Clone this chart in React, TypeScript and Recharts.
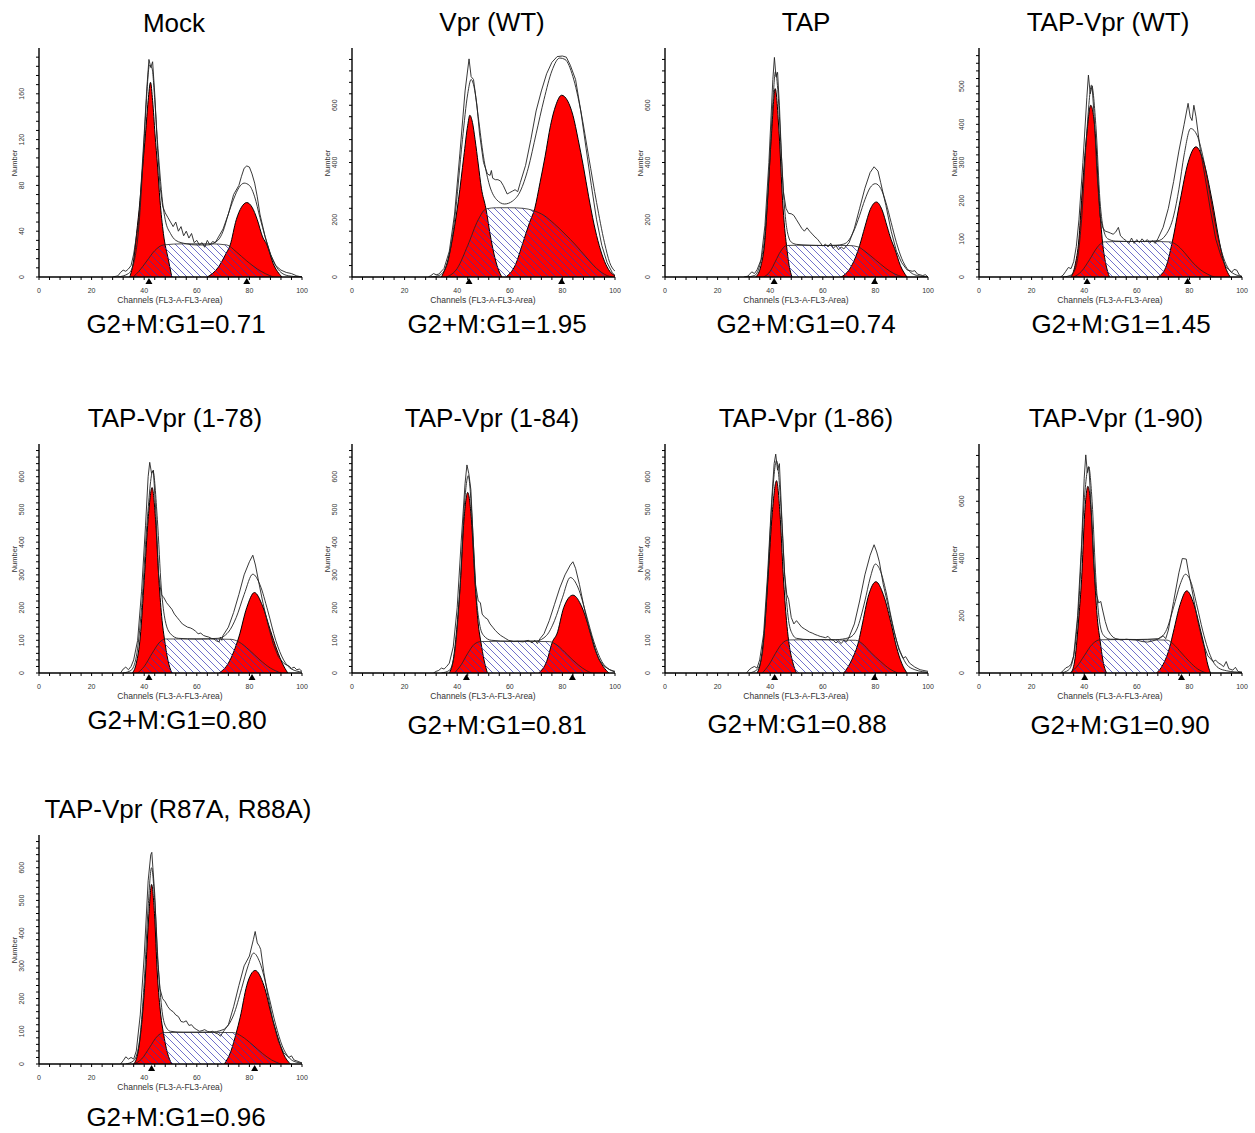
import React from 'react';
import { ComposedChart, Area, Line, XAxis, YAxis, ReferenceDot } from 'recharts';

type Pt = [number, number];

// Mock
const mockG1: Pt[] = [[34.5,0],[36,15],[37.1,38],[38.4,67],[39.4,96],[40.5,125],[41.5,154],[42.4,170],[43.2,154],[44.1,125],[45.1,96],[46,67],[47.3,38],[49.2,15],[50.5,0]];
const mockG2: Pt[] = [[64,0],[68,8],[71,20],[72.7,28],[75,50],[77,61],[79,65],[81,61],[83,50],[85,35],[86.7,28],[89,12],[92.4,0]];
const mockS: Pt[] = [[35.8,0],[38,5],[41,14],[44,23],[47.3,28],[55,29],[65,29],[71.4,28],[75,22],[79,14],[83,7],[86,3],[89.2,0]];
const mockFit: Pt[] = [[30,0],[34,3],[36,12],[38,45],[40,120],[41,160],[42,185],[43,182],[44,155],[45,120],[46,90],[47,65],[48,50],[50,38],[52,32],[56,29],[60,28],[64,28],[68,32],[70,40],[72,55],[74,68],[76,78],[78,82],[80,80],[82,70],[84,52],[86,35],[88,20],[90,10],[92,4],[95,1],[100,0]];
const mockRaw: Pt[] = [[28,0],[30,1],[31,4],[32,6],[33,5],[34,7],[35,10],[36,20],[38,50],[40,125],[41,165],[41.8,190],[42.5,183],[43.2,188],[44,160],[45,115],[46,80],[47,62],[48,56],[49,52],[50,48],[51,44],[52,48],[53,40],[54,44],[55,36],[56,40],[57,34],[58,38],[59,30],[60,32],[61,28],[62,30],[63,26],[64,32],[65,28],[66,31],[67,30],[68,34],[70,42],[72,55],[74,72],[76,80],[77,88],[78,95],[79,97],[80,96],[81,90],[82,82],[83,70],[84,55],[86,35],[88,20],[90,10],[92,6],[94,4],[96,3],[98,1],[100,0]];

// Vpr (WT)
const vprG1: Pt[] = [[34,0],[36.5,60],[38.5,150],[40.5,270],[42.5,420],[44,530],[44.8,565],[45.8,540],[46.8,480],[48,395],[49.2,310],[50.9,240],[52.5,150],[54,80],[55.5,30],[57,0]];
const vprG2: Pt[] = [[58.5,0],[62,40],[65,120],[67.5,190],[69.5,240],[71.5,330],[73.4,420],[75.5,530],[77.5,600],[79.7,635],[82,615],[84,565],[86,480],[88,385],[90,280],[92,185],[94,110],[96,55],[98,20],[100,5]];
const vprS: Pt[] = [[36,0],[40,30],[44,110],[48,200],[51,238],[55,242],[60,242],[65,240],[69,232],[73,215],[77,185],[81,150],[85,112],[89,70],[93,30],[97,5],[99,0]];
const vprFit: Pt[] = [[30,0],[33,5],[36,40],[39,200],[42,480],[44,640],[45.3,690],[46.5,660],[48,560],[50,420],[52,330],[55,270],[58,255],[61,265],[64,300],[67,380],[70,500],[73,620],[76,720],[79,765],[81,760],[84,700],[87,580],[90,420],[93,260],[96,120],[98,50],[100,20]];
const vprRaw: Pt[] = [[29,0],[30,5],[31,12],[32,8],[33,10],[35,30],[37,90],[39,220],[41,430],[43,650],[44.5,762],[45.3,700],[46.2,690],[47.5,600],[48.5,500],[50,400],[51.5,360],[52.5,355],[53,372],[53.5,345],[54.5,340],[55.5,340],[56.5,335],[57.5,320],[58.5,300],[59,290],[60,295],[61,300],[62,305],[63,298],[64,330],[66,390],[68,480],[70,580],[72,650],[74,710],[76,750],[78,770],[80,772],[81.5,768],[83,740],[85,690],[87,580],[89,450],[91,320],[93,200],[95,110],[97,50],[99,15],[100,5]];

// TAP
const tapG1: Pt[] = [[34.5,0],[36.5,40],[38,130],[39,268],[40.5,500],[41.9,658],[43.4,500],[44.7,268],[45.5,170],[46.2,110],[47.2,40],[48.3,0]];
const tapG2: Pt[] = [[67,0],[70,25],[72.5,70],[74,110],[76,175],[78,235],[80.4,262],[82.5,235],[84.5,175],[86,130],[87.3,100],[89.5,40],[92,0]];
const tapS: Pt[] = [[37.5,0],[40,20],[42,55],[44,90],[46.2,110],[50,111],[60,110],[70,110],[73.5,105],[76,90],[80,60],[84,30],[87,12],[90.5,0]];
const tapFit: Pt[] = [[31,0],[34,5],[36,40],[38,150],[39.5,350],[41,610],[42,717],[43,640],[44,470],[45,300],[46,190],[47,140],[48,122],[50,114],[55,111],[60,110],[65,111],[68,115],[70,130],[72,165],[74,215],[76,270],[78,312],[80,326],[82,310],[84,260],[86,190],[88,120],[90,65],[92,30],[94,12],[96,5],[98,2],[100,0]];
const tapRaw: Pt[] = [[30,0],[31.5,3],[32,8],[33,18],[34,12],[35,25],[36.5,60],[38,180],[39.5,400],[41,690],[41.6,767],[42.2,700],[42.8,715],[43.5,600],[44.3,420],[45,300],[46,240],[47,222],[48,221],[49,215],[50,200],[51,185],[52,170],[53,160],[54,172],[55,160],[56,150],[57,140],[58,132],[59,120],[60,108],[61,115],[62,105],[63,118],[64,100],[65,110],[66,95],[67,105],[68,98],[70,120],[72,170],[74,240],[76,310],[78,365],[79.5,385],[81,370],[82,330],[84,250],[86,160],[88,90],[90,50],[92,25],[94,20],[95,22],[96,10],[98,5],[99,8],[100,0]];

// TAP-Vpr (WT)
const twG1: Pt[] = [[35,0],[36.5,30],[38,100],[39,201],[41,376],[42.5,450],[44.2,376],[45.7,201],[47,89],[48.2,35],[49.6,0]];
const twG2: Pt[] = [[68,0],[71,25],[73.4,89],[76.5,201],[79.5,300],[82.5,341],[85.5,300],[88.6,201],[91.5,89],[93.5,30],[95.5,0]];
const twS: Pt[] = [[36,0],[39,15],[42,45],[45,78],[47.5,92],[55,93],[65,93],[72.5,92],[75,85],[78,65],[81,40],[84,20],[87,7],[89.5,0]];
const twFit: Pt[] = [[32,0],[35,5],[37,30],[39,150],[41,380],[42.8,503],[44.5,390],[46,200],[47.5,120],[49,100],[52,94],[60,93],[68,95],[71,110],[74,160],[76,230],[78,320],[80.5,389],[83,370],[85,320],[87,250],[89,170],[91,100],[93,50],[95,20],[97,8],[100,2]];
const twRaw: Pt[] = [[31,0],[32,5],[33,15],[34,25],[35,22],[36,40],[37,80],[38,150],[39.5,300],[41,470],[41.6,529],[42.3,480],[43,500],[43.8,420],[44.8,280],[46,160],[47,130],[48,120],[49,118],[50,115],[51,112],[52,118],[53,130],[53.8,108],[55,100],[56,95],[57,88],[58,102],[59,88],[60,98],[61,90],[62,100],[63,92],[64,98],[65,90],[66,95],[67,88],[68,100],[70,130],[72,180],[74,250],[76,330],[78,400],[79.5,455],[80.3,420],[81,410],[81.7,450],[82.5,420],[84,340],[86,260],[88,175],[90,100],[92,55],[94,25],[95,20],[96,12],[97,20],[98,18],[99,5],[100,0]];

// TAP-Vpr (1-78)
const d78G1: Pt[] = [[35.5,0],[37,30],[38.5,110],[40,283],[41.5,470],[43,567],[44.3,470],[45.6,283],[46.8,160],[47.7,104],[49,40],[50.5,0]];
const d78G2: Pt[] = [[68.5,0],[72,30],[76,110],[79,200],[81.9,246],[85,205],[88,130],[90.5,70],[92.5,30],[94.6,0]];
const d78S: Pt[] = [[37.5,0],[40,20],[43,60],[46,95],[48,104],[55,104],[65,104],[73,103],[76,95],[80,70],[84,40],[88,15],[92,0]];
const d78Fit: Pt[] = [[32,0],[35,8],[37,50],[39,200],[41,450],[43.3,618],[45,470],[46.5,260],[48,160],[50,120],[53,106],[60,104],[68,106],[72,125],[75,170],[78,240],[81.3,302],[84,270],[87,190],[90,100],[93,40],[96,12],[100,3]];
const d78Raw: Pt[] = [[31,0],[32,12],[33,18],[34,10],[35,20],[36,40],[37.5,100],[39,250],[40.5,450],[41.5,600],[42.1,644],[42.8,610],[43.5,620],[44.5,480],[45.5,300],[46.5,240],[47.5,230],[48.5,215],[49.5,205],[50.5,195],[51.5,180],[52.5,170],[53.5,160],[54.5,150],[55.5,145],[56.5,140],[57.5,138],[58.5,134],[59.5,128],[60.5,120],[61.5,122],[62.5,115],[63.5,112],[64.5,110],[65.5,106],[66.5,104],[67.5,98],[68.5,95],[69,110],[69.5,100],[70,115],[72,140],[74,185],[76,240],[78,300],[80,340],[81.3,360],[82.3,330],[83.5,280],[85,220],[87,150],[89,90],[91,50],[93,30],[94,25],[95,22],[96,14],[97,18],[98,10],[99,12],[100,5]];

// TAP-Vpr (1-84)
const d84G1: Pt[] = [[37,0],[38.5,40],[40,150],[41.2,276],[42.6,470],[44,552],[45.4,470],[46.8,276],[48,150],[49,95],[50.2,40],[51.5,0]];
const d84G2: Pt[] = [[71,0],[74,35],[76.3,97],[77.9,119],[80.5,200],[84,238],[87.5,200],[90.8,119],[93,60],[95.5,20],[97.7,0]];
const d84S: Pt[] = [[39,0],[41.5,25],[44,60],[46.5,88],[49,96],[55,97],[65,97],[75,96],[78,85],[82,55],[86,25],[89,8],[91,0]];
const d84Fit: Pt[] = [[34,0],[37,8],[39,60],[41,250],[42.8,520],[44.2,603],[45.6,480],[47,260],[48.5,150],[50,115],[53,100],[60,97],[70,98],[74,115],[77,160],[80,230],[83,292],[86,260],[89,180],[92,95],[95,35],[98,10],[100,3]];
const d84Raw: Pt[] = [[31,0],[32,5],[33,8],[34,15],[35,12],[36,20],[37,30],[38.5,80],[40,200],[41.5,400],[43,580],[43.7,636],[44.4,610],[45.2,560],[46,420],[47,270],[48,220],[48.8,215],[49.5,180],[50.5,170],[51.5,165],[52.5,150],[53.5,140],[54.5,130],[55.5,122],[56.5,115],[57.5,110],[58.5,105],[59.5,100],[60.5,98],[61.5,96],[63,97],[65,95],[67,100],[68.5,92],[69.5,100],[70.5,90],[71.5,105],[73,120],[75,160],[77,210],[79,260],[81,300],[83,330],[84,340],[85,320],[86.5,270],[88,210],[90,140],[92,80],[94,40],[96,20],[98,10],[100,5]];

// TAP-Vpr (1-86)
const d86G1: Pt[] = [[35,0],[36.5,40],[38,150],[39.2,294],[40.8,490],[42.4,588],[43.7,490],[45,294],[46.2,160],[47,99],[48.5,35],[50,0]];
const d86G2: Pt[] = [[68,0],[71,40],[73.7,99],[74.8,140],[77.5,240],[80.2,279],[83,240],[86.3,140],[88,80],[90,30],[92,0]];
const d86S: Pt[] = [[37,0],[39.5,25],[42,60],[44.5,90],[47,101],[55,102],[65,101],[72.5,100],[75,90],[78,65],[82,35],[85.5,12],[88.5,0]];
const d86Fit: Pt[] = [[32,0],[35,10],[37,60],[39,280],[40.8,540],[42.4,649],[44,520],[45.5,300],[47,160],[48.5,118],[50,106],[55,102],[65,102],[70,108],[73,135],[76,220],[78,290],[80,333],[82,310],[84,250],[86,170],[88,100],[90,55],[92,25],[95,10],[98,4],[100,2]];
const d86Raw: Pt[] = [[31,0],[32,10],[33,16],[34,20],[35,15],[36,40],[37.5,120],[39,300],[40.5,520],[41.5,640],[42.1,669],[42.8,620],[43.5,640],[44.5,460],[45.5,300],[46.3,240],[47,225],[48,170],[49,150],[50,160],[51,150],[52,140],[53,135],[54,130],[55,125],[56,122],[57,118],[58,115],[59,112],[60,110],[61,108],[62,112],[63,103],[64,100],[65,92],[66,98],[67,90],[68,100],[69,95],[70,110],[72,150],[74,220],[76,300],[78,360],[79.5,392],[80.5,370],[81.5,340],[83,270],[85,200],[87,130],[89,70],[90.5,45],[91.5,50],[93,30],[95,18],[97,10],[100,5]];

// TAP-Vpr (1-90)
const d90G1: Pt[] = [[35,0],[36.5,50],[38,200],[39,326],[40.2,560],[41.4,652],[42.7,560],[44,326],[45,190],[46,116],[47.2,40],[48.5,0]];
const d90G2: Pt[] = [[67.5,0],[70,30],[72.5,90],[73.9,143],[76.5,240],[79,287],[81.7,240],[84.4,143],[85.5,100],[86.7,40],[88,0]];
const d90S: Pt[] = [[34.5,0],[37,20],[40,60],[43,100],[46,116],[55,117],[65,116],[71.5,115],[74,100],[77,70],[80,40],[83,15],[86.5,0]];
const d90Fit: Pt[] = [[31,0],[34,10],[36,60],[38,250],[40,600],[41.7,721],[43,600],[44.5,320],[46,170],[47.5,130],[50,118],[60,117],[68,120],[71,145],[74,230],[76.5,310],[78.5,345],[80.5,320],[83,230],[85,150],[87,85],[89,40],[91,18],[94,8],[97,4],[100,2]];
const d90Raw: Pt[] = [[31,0],[32,8],[33,18],[34,22],[35,30],[36,60],[37.5,200],[39,450],[40,680],[40.6,762],[41.2,700],[41.8,720],[42.5,600],[43.5,400],[44.5,280],[45.5,245],[46.3,250],[47,220],[48,180],[49,150],[50,135],[51,125],[52,120],[53,118],[54,115],[56,118],[58,116],[60,115],[62,110],[64,108],[66,112],[68,118],[69,125],[70,130],[71,120],[72,150],[74,250],[76,350],[77.3,400],[78.8,398],[79.5,360],[81,290],[83,190],[85,110],[87,60],[89,40],[90,45],[91,35],[92,30],[93,22],[94,40],[95,15],[96.5,10],[97.5,20],[98.5,5],[100,3]];

// TAP-Vpr (R87A, R88A)
const rrG1: Pt[] = [[36,0],[37.5,30],[39,120],[40.5,275],[41.8,460],[42.8,549],[43.9,460],[45,275],[46.3,150],[47.3,95],[48.8,35],[50.5,0]];
const rrG2: Pt[] = [[70.5,0],[73,40],[75,95],[76.5,143],[79,240],[82.2,286],[85.5,240],[88.6,143],[90.5,90],[93,30],[95.6,0]];
const rrS: Pt[] = [[36,0],[39,15],[42,50],[45,85],[47.5,96],[55,97],[65,97],[74,96],[77,85],[81,60],[85,32],[88.5,12],[92,0]];
const rrFit: Pt[] = [[33,0],[36,10],[38,60],[40,250],[41.5,480],[42.8,600],[44,500],[45.5,280],[47,150],[48.5,110],[50,100],[55,97],[65,97],[70,105],[74,150],[77,230],[79.5,300],[81.6,339],[84,310],[87,220],[90,120],[92.5,55],[95,20],[97,8],[100,3]];
const rrRaw: Pt[] = [[31,0],[32,10],[33,22],[34,15],[35,20],[36,15],[37,40],[38.5,150],[40,330],[41.5,560],[42.5,640],[42.9,647],[43.3,600],[44,520],[45,330],[46,230],[47,200],[48,190],[49,175],[50,165],[51,160],[52,150],[53,145],[54,130],[55,128],[56,132],[57,118],[58,120],[59,110],[60,105],[61,100],[62,102],[63,105],[64,100],[65,98],[66,100],[67,95],[68,92],[69,85],[70,98],[72,120],[74,175],[76,240],[78,300],[80,330],[81.5,380],[82.2,405],[83,370],[83.8,360],[84.3,350],[85.5,280],[87,210],[89,130],[91,70],[93,35],[95,20],[96,25],[97,12],[98.5,8],[100,3]];

const TITLES = ['Mock', 'Vpr (WT)', 'TAP', 'TAP-Vpr (WT)', 'TAP-Vpr (1-78)', 'TAP-Vpr (1-84)', 'TAP-Vpr (1-86)', 'TAP-Vpr (1-90)', 'TAP-Vpr (R87A, R88A)'];
const RATIOS = ['0.71', '1.95', '0.74', '1.45', '0.80', '0.81', '0.88', '0.90', '0.96'];
const Y_MAX = [200, 800, 800, 600, 700, 700, 700, 800, 700];
const Y_LABEL_STEP = [40, 200, 200, 100, 100, 100, 100, 200, 100];
const G1_MEAN = [41.8, 44.5, 41.5, 41.1, 41.8, 43.5, 41.7, 40.2, 42.8];
const G2_MEAN = [79, 79.7, 79.7, 79.3, 81, 83.8, 79.7, 77, 82];
const X_TICKS = Array.from({ length: 26 }, (_, i) => i * 4);

const SERIES: Pt[][][] = [
  [mockG1, mockG2, mockS, mockFit, mockRaw],
  [vprG1, vprG2, vprS, vprFit, vprRaw],
  [tapG1, tapG2, tapS, tapFit, tapRaw],
  [twG1, twG2, twS, twFit, twRaw],
  [d78G1, d78G2, d78S, d78Fit, d78Raw],
  [d84G1, d84G2, d84S, d84Fit, d84Raw],
  [d86G1, d86G2, d86S, d86Fit, d86Raw],
  [d90G1, d90G2, d90S, d90Fit, d90Raw],
  [rrG1, rrG2, rrS, rrFit, rrRaw],
];

// layout
const PLOT_X = [39, 352, 665, 979];
const PLOT_TOP = [48, 444, 835];
const PLOT_W = 263;
const PLOT_H = 229;
const TITLE_POS = [[174, 22.5], [492, 22], [806, 22], [1108, 22], [175, 418], [492, 418], [806, 418], [1116, 418], [178, 809]];
const CAPTION_POS = [[176, 324], [497, 324], [806, 324], [1121, 324], [177, 720], [497, 725], [797, 724], [1120, 725], [176, 1117]];

const FONT = "'Liberation Sans', Arial, Helvetica, sans-serif";
const AXIS_LEFT = 35;
const MARGIN_TOP = 10;
const MARGIN_RIGHT = 10;
const CHART_W = AXIS_LEFT + PLOT_W + MARGIN_RIGHT;
const CHART_H = MARGIN_TOP + PLOT_H + 30 + 21;

const rows = (pts: Pt[]) => pts.map(([x, y]) => ({ x, y }));

function xTick(props: any) {
  const { x, y, payload } = props;
  if (payload.value % 20 !== 0) return <g />;
  return (
    <text x={x} y={y + 11} textAnchor="middle" fontSize={7} fill="#333" fontFamily={FONT}>
      {payload.value}
    </text>
  );
}

function makeYTick(step: number) {
  return (props: any) => {
    const { y, payload } = props;
    if (payload.value % step !== 0) return <g />;
    const lx = AXIS_LEFT - 15;
    return (
      <text x={lx} y={y} transform={`rotate(-90 ${lx} ${y})`} textAnchor="middle" fontSize={7} fill="#333" fontFamily={FONT}>
        {payload.value}
      </text>
    );
  };
}

const triangle = (props: any) => {
  const { cx, cy } = props;
  return <path d={`M${cx},${cy + 1} L${cx - 3.5},${cy + 7} L${cx + 3.5},${cy + 7} Z`} fill="#000" />;
};

function Histogram({ idx }: { idx: number }) {
  const [g1, g2, s, fit, raw] = SERIES[idx];
  const yMax = Y_MAX[idx];
  const step = Y_LABEL_STEP[idx];
  const minor = step / 5;
  const yTicks: number[] = [];
  for (let v = 0; v < yMax - minor / 2; v += minor) yTicks.push(Math.round(v));
  const pid = `hatch${idx}`;

  return (
    <ComposedChart width={CHART_W} height={CHART_H} margin={{ top: MARGIN_TOP, right: MARGIN_RIGHT, left: 5, bottom: 21 }}>
      <defs>
        <pattern id={pid} patternUnits="userSpaceOnUse" width={7} height={7}>
          <path d="M-1,-1 L8,8 M-1,6 L1,8 M6,-1 L8,1" stroke="#3434b4" strokeWidth={0.7} />
        </pattern>
      </defs>
      <XAxis
        type="number"
        dataKey="x"
        domain={[0, 100]}
        ticks={X_TICKS}
        interval={0}
        allowDataOverflow
        height={30}
        tickSize={3}
        tick={xTick}
        axisLine={{ stroke: '#000', strokeWidth: 1.4 }}
        tickLine={{ stroke: '#000', strokeWidth: 1 }}
      />
      <YAxis
        type="number"
        dataKey="y"
        domain={[0, yMax]}
        ticks={yTicks}
        interval={0}
        allowDataOverflow
        width={30}
        tickSize={3}
        tick={makeYTick(step)}
        axisLine={{ stroke: '#000', strokeWidth: 1.4 }}
        tickLine={{ stroke: '#000', strokeWidth: 1 }}
      />
      <Area data={rows(g1)} dataKey="y" type="monotone" fill="#ff0000" fillOpacity={1} stroke="#000" strokeWidth={1} dot={false} activeDot={false} isAnimationActive={false} />
      <Area data={rows(g2)} dataKey="y" type="monotone" fill="#ff0000" fillOpacity={1} stroke="#000" strokeWidth={1} dot={false} activeDot={false} isAnimationActive={false} />
      <Area data={rows(s)} dataKey="y" type="monotone" fill={`url(#${pid})`} fillOpacity={1} stroke="#222" strokeWidth={0.8} dot={false} activeDot={false} isAnimationActive={false} />
      <Line data={rows(fit)} dataKey="y" type="monotone" stroke="#222" strokeWidth={0.9} dot={false} activeDot={false} isAnimationActive={false} />
      <Line data={rows(raw)} dataKey="y" type="linear" stroke="#222" strokeWidth={0.9} dot={false} activeDot={false} isAnimationActive={false} />
      <ReferenceDot x={G1_MEAN[idx]} y={0} r={3} ifOverflow="visible" shape={triangle} />
      <ReferenceDot x={G2_MEAN[idx]} y={0} r={3} ifOverflow="visible" shape={triangle} />
    </ComposedChart>
  );
}

export default function App() {
  return (
    <div style={{ position: 'absolute', left: 0, top: 0, width: 1255, height: 1133, background: '#fff', fontFamily: FONT }}>
      {TITLES.map((title, i) => {
        const col = i % 4;
        const row = Math.floor(i / 4);
        const x0 = PLOT_X[col];
        const top = PLOT_TOP[row];
        return (
          <React.Fragment key={title}>
            <div style={{ position: 'absolute', left: TITLE_POS[i][0], top: TITLE_POS[i][1], transform: 'translate(-50%, -50%)', fontSize: 26, lineHeight: 1, whiteSpace: 'nowrap' }}>
              {title}
            </div>
            <div style={{ position: 'absolute', left: x0 - AXIS_LEFT, top: top - MARGIN_TOP }}>
              <Histogram idx={i} />
            </div>
            <div style={{ position: 'absolute', left: x0 - 24.5, top: top + PLOT_H / 2, transform: 'translate(-50%, -50%) rotate(-90deg)', fontSize: 7.5, color: '#333', lineHeight: 1, whiteSpace: 'nowrap' }}>
              Number
            </div>
            <div style={{ position: 'absolute', left: x0 + 131, top: top + PLOT_H + 22.5, transform: 'translate(-50%, -50%)', fontSize: 8.5, color: '#333', lineHeight: 1, whiteSpace: 'nowrap' }}>
              Channels (FL3-A-FL3-Area)
            </div>
            <div style={{ position: 'absolute', left: CAPTION_POS[i][0], top: CAPTION_POS[i][1], transform: 'translate(-50%, -50%)', fontSize: 26, lineHeight: 1, whiteSpace: 'nowrap' }}>
              {`G2+M:G1=${RATIOS[i]}`}
            </div>
          </React.Fragment>
        );
      })}
    </div>
  );
}
